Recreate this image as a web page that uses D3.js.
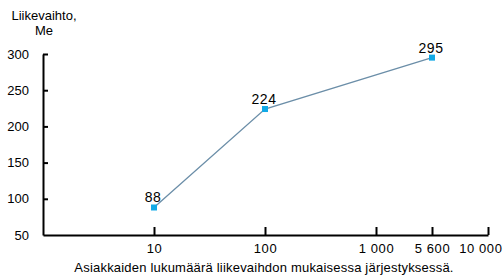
<!DOCTYPE html>
<html>
<head>
<meta charset="utf-8">
<script src="https://cdn.jsdelivr.net/npm/d3@7"></script>
<style>
  body { margin: 0; background: #fff; }
  text { font-family: "Liberation Sans", Arial, sans-serif; fill: #000; }
</style>
</head>
<body>
<div id="chart"></div>
<script>
// customers (x) vs revenue, Me (y)
const customers = [10, 100, 5600];
const revenue = [88, 224, 295];
const xTicks = [10, 100, 1000, 5600, 10000];
const xTickLabels = ["10", "100", "1 000", "5 600", "10 000"];
const yTicks = [50, 100, 150, 200, 250, 300];

const width = 504, height = 277;
const margin = {top: 54, right: 16, bottom: 42, left: 43};

const svg = d3.select("#chart")
  .append("svg")
  .attr("width", width)
  .attr("height", height);

// the original axis is not a true log: 5 600 sits half way between 1 000 and 10 000
const x = d3.scaleLog()
  .domain([1, 1000, 5600, 10000])
  .range([margin.left, 376, 432, width - margin.right]);
const y = d3.scaleLinear()
  .domain([50, 300])
  .range([height - margin.bottom, margin.top]);

const xAxis = d3.axisBottom(x)
  .tickValues(xTicks)
  .tickFormat((d, i) => xTickLabels[i])
  .tickSizeInner(-8)
  .tickSizeOuter(0)
  .tickPadding(9);

const yAxis = d3.axisLeft(y)
  .tickValues(yTicks)
  .tickSizeInner(-5)
  .tickSizeOuter(0)
  .tickPadding(14);

const gx = svg.append("g")
  .attr("transform", `translate(0,${y(50)})`)
  .call(xAxis);
gx.select(".domain").attr("stroke-width", 2).attr("stroke", "#000");
gx.selectAll(".tick line").attr("stroke-width", 2).attr("stroke", "#000");
gx.selectAll(".tick text").attr("font-size", 13).attr("letter-spacing", 0.6);
// last label is pushed left so it stays inside the picture
gx.selectAll(".tick").filter(d => d === 10000).select("text")
  .attr("text-anchor", "end").attr("x", 14);

const gy = svg.append("g")
  .attr("transform", `translate(${margin.left},0)`)
  .call(yAxis);
gy.select(".domain").attr("stroke-width", 2).attr("stroke", "#000");
gy.selectAll(".tick line").attr("stroke-width", 2).attr("stroke", "#000");
gy.selectAll(".tick text").attr("font-size", 13);
gy.selectAll(".tick").filter(d => d === 50).select("line").remove();

const data = customers.map((c, i) => ({c, v: revenue[i]}));

const line = d3.line()
  .x(d => x(d.c))
  .y(d => y(d.v));

svg.append("path")
  .datum(data)
  .attr("fill", "none")
  .attr("stroke", "#6b8ea8")
  .attr("stroke-width", 1.3)
  .attr("d", line);

svg.selectAll("rect.pt")
  .data(data)
  .enter().append("rect")
  .attr("class", "pt")
  .attr("x", d => x(d.c) - 3)
  .attr("y", d => y(d.v) - 3)
  .attr("width", 6)
  .attr("height", 6)
  .attr("fill", "#12a9e6");

svg.selectAll("text.lbl")
  .data(data)
  .enter().append("text")
  .attr("class", "lbl")
  .attr("x", d => x(d.c) - 1)
  .attr("y", d => y(d.v) - 5)
  .attr("text-anchor", "middle")
  .attr("font-size", 14)
  .attr("letter-spacing", 0.5)
  .text(d => d.v);

// axis titles
svg.append("text")
  .attr("x", 44)
  .attr("y", 20)
  .attr("text-anchor", "middle")
  .attr("font-size", 13)
  .text("Liikevaihto,");
svg.append("text")
  .attr("x", 44)
  .attr("y", 35)
  .attr("text-anchor", "middle")
  .attr("font-size", 13)
  .text("Me");

svg.append("text")
  .attr("x", 264)
  .attr("y", 272)
  .attr("text-anchor", "middle")
  .attr("font-size", 13)
  .attr("letter-spacing", 0.2)
  .text("Asiakkaiden lukumäärä liikevaihdon mukaisessa järjestyksessä.");
</script>
</body>
</html>
